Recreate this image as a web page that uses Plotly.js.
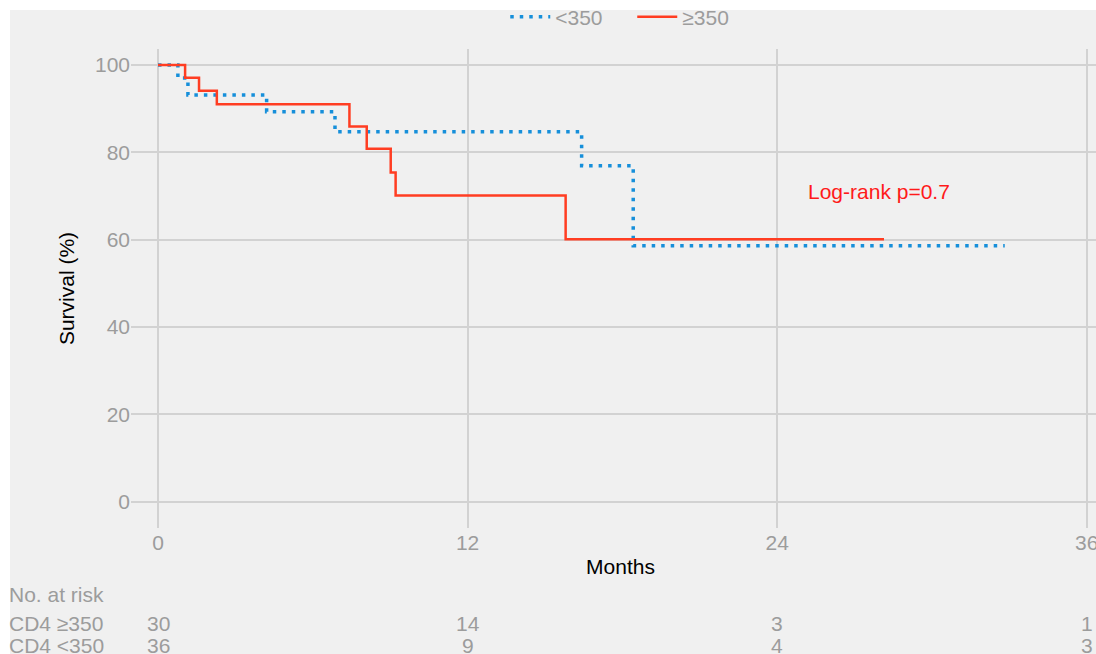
<!DOCTYPE html>
<html>
<head>
<meta charset="utf-8">
<script src="https://cdn.plot.ly/plotly-3.0.1.min.js"></script>
<style>
  html, body { margin: 0; padding: 0; background: #ffffff; overflow: hidden; }
  #chart { position: absolute; left: 0px; top: 0px; width: 1120px; height: 670px; }
</style>
</head>
<body>
<div id="chart"></div>
<script>
// Survival curves (Kaplan-Meier, step functions)
const lowTimes = [0, 0.77, 1.16, 4.21, 6.86, 16.42, 18.42, 32.82];
const lowSurv  = [100, 97.0, 93.1, 89.3, 84.7, 76.9, 58.6, 58.6];
const highTimes = [0, 1.05, 1.59, 2.28, 7.42, 8.09, 9.02, 9.21, 15.80, 28.14];
const highSurv  = [100, 97.1, 94.1, 91.0, 85.9, 80.8, 75.4, 70.1, 60.1, 60.1];

// Legend names
const seriesNames = ['<350', '≥350'];

// Axes ticks
const xTicks = [0, 12, 24, 36];
const yTicks = [0, 20, 40, 60, 80, 100];

// Number at risk table
const riskTimes = [0, 12, 24, 36];
const riskHigh = [30, 14, 3, 1];
const riskLow  = [36, 9, 4, 3];
const riskLabels = ['CD4 ≥350', 'CD4 <350'];
const riskTitle = 'No. at risk';

const pValueText = 'Log-rank p=0.7';

const FONT = 'Liberation Sans, Arial, Helvetica, sans-serif';
const GRAY = '#9c9c9c';
const BLUE = '#168fda';
const RED = '#ff3d22';
const PANEL = '#f0f0f0';

const traces = [
  {
    x: lowTimes, y: lowSurv, name: seriesNames[0], type: 'scatter', mode: 'lines',
    line: { shape: 'hv', color: BLUE, width: 3.5, dash: '3.5px,6px' }
  },
  {
    x: highTimes, y: highSurv, name: seriesNames[1], type: 'scatter', mode: 'lines',
    line: { shape: 'hv', color: RED, width: 2.5 }
  }
];

const annotations = [];
annotations.push({
  x: 27.95, y: 71.1, xref: 'x', yref: 'y', text: pValueText, showarrow: false,
  font: { family: FONT, size: 21, color: '#ff1a1a' }, xanchor: 'center', yanchor: 'middle'
});
const labelX = -0.1267;
const rowY = [-0.2004, -0.2463];
annotations.push({
  x: labelX, y: -0.1378, xref: 'paper', yref: 'paper', text: riskTitle, showarrow: false,
  xanchor: 'left', yanchor: 'middle', font: { family: FONT, size: 21, color: GRAY }
});
[riskHigh, riskLow].forEach((row, r) => {
  annotations.push({
    x: labelX, y: rowY[r], xref: 'paper', yref: 'paper', text: riskLabels[r], showarrow: false,
    xanchor: 'left', yanchor: 'middle', font: { family: FONT, size: 21, color: GRAY }
  });
  row.forEach((v, i) => {
    annotations.push({
      x: riskTimes[i], y: rowY[r], xref: 'x', yref: 'paper', text: String(v), showarrow: false,
      xanchor: 'center', yanchor: 'middle', font: { family: FONT, size: 21, color: GRAY }
    });
  });
});

const layout = {
  width: 1120, height: 670,
  margin: { l: 131, r: 10, t: 49, b: 142, autoexpand: false },
  paper_bgcolor: '#ffffff', plot_bgcolor: PANEL,
  font: { family: FONT, size: 21, color: GRAY },
  showlegend: true,
  legend: {
    orientation: 'h', x: 0.512, xanchor: 'center', y: 1.0668, yanchor: 'middle',
    font: { family: FONT, size: 21, color: GRAY }, bgcolor: 'rgba(0,0,0,0)',
    itemwidth: 40, entrywidth: 72, entrywidthmode: 'pixels'
  },
  shapes: [{
    type: 'rect', xref: 'paper', yref: 'paper', layer: 'below',
    x0: -0.1236, x1: 1.2, y0: -0.4, y1: 1.0814,
    fillcolor: PANEL, line: { width: 0 }
  }],
  xaxis: {
    range: [-1.047, 36.90], tickvals: xTicks, ticktext: xTicks.map(String),
    showgrid: true, gridcolor: '#d2d2d2', gridwidth: 2, zeroline: false, showline: false,
    ticks: '', tickfont: { family: FONT, size: 21, color: GRAY },
    title: { text: 'Months', font: { family: FONT, size: 21, color: '#000000' }, standoff: 6 },
    automargin: false, fixedrange: true
  },
  yaxis: {
    range: [-6.02, 103.66], tickvals: yTicks, ticktext: yTicks.map(String),
    showgrid: true, gridcolor: '#d2d2d2', gridwidth: 2, zeroline: false, showline: false,
    ticks: '', tickfont: { family: FONT, size: 21, color: GRAY },
    title: { text: 'Survival (%)', font: { family: FONT, size: 21, color: '#000000' }, standoff: 14 },
    automargin: false, fixedrange: true
  },
  annotations: annotations
};

Plotly.newPlot('chart', traces, layout, { displayModeBar: false, staticPlot: true });
</script>
</body>
</html>
